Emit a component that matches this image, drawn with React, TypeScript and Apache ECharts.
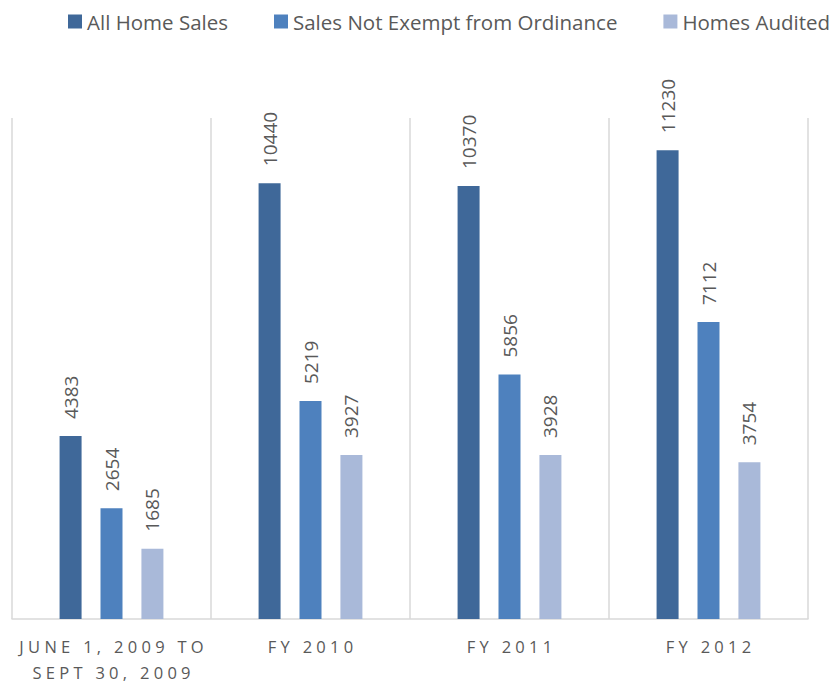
import React, { useEffect, useRef } from "react";
import * as echarts from "echarts";

const categories = ["JUNE 1, 2009 TO\nSEPT 30, 2009", "FY 2010", "FY 2011", "FY 2012"];
const seriesNames = ["All Home Sales", "Sales Not Exempt from Ordinance", "Homes Audited"];
const allHomeSales = [4383, 10440, 10370, 11230];
const salesNotExempt = [2654, 5219, 5856, 7112];
const homesAudited = [1685, 3927, 3928, 3754];
const colors = ["#3F6899", "#4E81BE", "#A9B9D9"];

const FONT = "'Open Sans', sans-serif";
const TEXT = "#595959";

function spaced(s: string): string {
  return s
    .split("\n")
    .map((line) => line.split("").join(" "))
    .join("\n");
}

export default function App() {
  const ref = useRef<HTMLDivElement>(null);
  useEffect(() => {
    if (!ref.current) return;
    const chart = echarts.init(ref.current, null, { renderer: "svg" });
    const values = [allHomeSales, salesNotExempt, homesAudited];
    chart.setOption({
      animation: false,
      backgroundColor: "#ffffff",
      textStyle: { fontFamily: FONT },
      legend: {
        left: 68,
        top: 11,
        width: 1200,
        padding: 0,
        itemWidth: 14,
        itemHeight: 14,
        itemGap: 46,
        icon: "rect",
        textStyle: { fontSize: 20.5, color: TEXT, fontFamily: FONT },
        data: seriesNames,
      },
      grid: { left: 12, right: 28, top: 118, bottom: 65, containLabel: false, outerBoundsMode: "none" },
      xAxis: {
        type: "category",
        data: categories,
        axisLine: { show: true, lineStyle: { color: "#D9D9D9", width: 1.5 } },
        axisTick: { show: false },
        splitLine: { show: true, lineStyle: { color: "#D9D9D9", width: 1.5 } },
        axisLabel: {
          color: TEXT,
          fontSize: 16.5,
          fontFamily: FONT,
          lineHeight: 26,
          margin: 14,
          interval: 0,
          formatter: (v: string) => spaced(v),
        },
      },
      yAxis: {
        type: "value",
        min: 0,
        max: 12000,
        show: false,
        splitLine: { show: false },
      },
      series: seriesNames.map((name, i) => ({
        name,
        type: "bar",
        data: values[i],
        barWidth: 22,
        barGap: "86%",
        itemStyle: { color: colors[i] },
        label: {
          show: true,
          position: "top",
          rotate: 90,
          align: "left",
          verticalAlign: "middle",
          distance: 17,
          color: TEXT,
          fontSize: 19,
          fontFamily: FONT,
        },
      })),
    });
    return () => chart.dispose();
  }, []);
  return (
    <div
      ref={ref}
      style={{ position: "absolute", left: 0, top: 0, width: 836, height: 684 }}
    />
  );
}
